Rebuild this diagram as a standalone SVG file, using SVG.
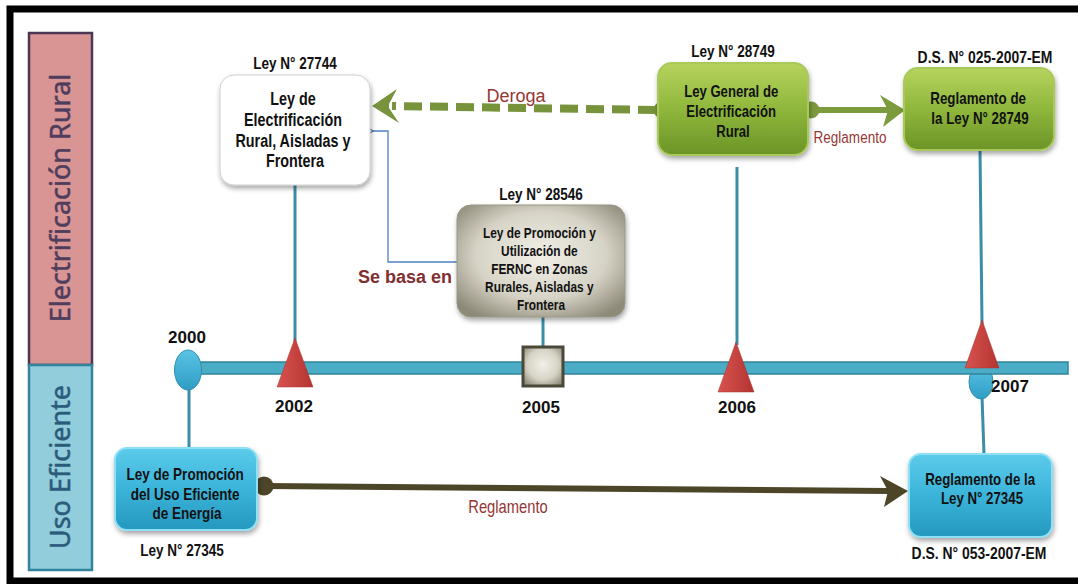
<svg xmlns="http://www.w3.org/2000/svg" width="1078" height="584" viewBox="0 0 1078 584">
<style>
  .nar { font-family: 'Liberation Sans', Arial, sans-serif; font-weight: bold; fill: #111; text-anchor: middle; }
  .yr { font-family: 'Liberation Sans', Arial, sans-serif; font-weight: bold; font-size: 17px; fill: #111; text-anchor: middle; }
  .lbl { font-size: 16.5px; }
  .side { font-family: 'Noto Sans', 'Open Sans', 'Liberation Sans', sans-serif; font-size: 27px; text-anchor: middle; stroke-width: 0.5; }
  .rel { font-family: 'Liberation Sans', Arial, sans-serif; fill: #953735; text-anchor: middle; }
  .vline { stroke: #3a8ea8; stroke-width: 3; fill: none; }
  .tri { fill: url(#gRed); stroke: #a83230; stroke-width: 0.5; }
</style>
<defs>
  <linearGradient id="gGreen" x1="0" y1="0" x2="0" y2="1">
    <stop offset="0" stop-color="#b6d35e"/>
    <stop offset="0.5" stop-color="#8fb73c"/>
    <stop offset="1" stop-color="#6c9427"/>
  </linearGradient>
  <linearGradient id="gBlue" x1="0" y1="0" x2="0" y2="1">
    <stop offset="0" stop-color="#5ccbea"/>
    <stop offset="0.5" stop-color="#3bb4da"/>
    <stop offset="1" stop-color="#2598bf"/>
  </linearGradient>
  <radialGradient id="gGray" cx="0.5" cy="0.45" r="0.65">
    <stop offset="0" stop-color="#f2f0e8"/>
    <stop offset="0.6" stop-color="#d6d3c6"/>
    <stop offset="1" stop-color="#8e8a79"/>
  </radialGradient>
  <linearGradient id="gRed" x1="0" y1="0" x2="1" y2="0">
    <stop offset="0" stop-color="#d9534f"/>
    <stop offset="1" stop-color="#b33431"/>
  </linearGradient>
  <linearGradient id="gDot" x1="0" y1="0" x2="0" y2="1">
    <stop offset="0" stop-color="#5bc4e6"/>
    <stop offset="1" stop-color="#2e9cc4"/>
  </linearGradient>
  <filter id="sh" x="-20%" y="-20%" width="140%" height="150%">
    <feDropShadow dx="1" dy="3" stdDeviation="2.5" flood-color="#000" flood-opacity="0.35"/>
  </filter>
  <marker id="mBlue" markerWidth="12" markerHeight="12" refX="1" refY="6" orient="auto" markerUnits="userSpaceOnUse">
    <path d="M9,1 L1,6 L9,11" fill="none" stroke="#4f81bd" stroke-width="1.3"/>
  </marker>
</defs>

<rect x="0" y="0" width="1078" height="584" fill="#fff"/>
<rect x="10" y="9" width="1080" height="572" fill="none" stroke="#000" stroke-width="7"/>

<g id="lane-electrificacion">
  <rect x="29" y="33" width="63" height="332" fill="#d99594" stroke="#4b3656" stroke-width="2.5"/>
  <text class="side" transform="translate(70,198) rotate(-90)" fill="#4e3d5c" stroke="#4e3d5c">Electrificación Rural</text>
</g>
<g id="lane-uso">
  <rect x="29" y="365" width="63" height="205" fill="#92cddc" stroke="#31849b" stroke-width="2.5"/>
  <text class="side" transform="translate(70,467) rotate(-90)" fill="#2b5b7a" stroke="#2b5b7a">Uso Eficiente</text>
</g>

<g id="connectors">
  <line class="vline" x1="295" y1="185" x2="295" y2="342"/>
  <line class="vline" x1="543" y1="317" x2="543" y2="348"/>
  <line class="vline" x1="737" y1="167" x2="737" y2="345"/>
  <line class="vline" x1="980" y1="150" x2="982" y2="324"/>
  <line class="vline" x1="189" y1="388" x2="189" y2="449"/>
  <line class="vline" x1="982" y1="396" x2="984" y2="455"/>
  <!-- Deroga -->
  <path d="M656,110 L392,106" stroke="#77933c" stroke-width="8" stroke-dasharray="18,8" fill="none"/>
  <path d="M372,106 L397,89 L389,104 L389,108 L399,123 Z" fill="#77933c"/>
  <circle cx="662" cy="110" r="8.5" fill="#77933c"/>
  <text class="rel" x="516" y="102" font-size="18">Deroga</text>
  <!-- Reglamento top -->
  <line x1="811" y1="110" x2="890" y2="110" stroke="#7b9b3c" stroke-width="6"/>
  <path d="M905,110 L880,95 L888,110 L883,127 Z" fill="#7b9b3c"/>
  <circle cx="811" cy="110" r="8.5" fill="#7b9b3c"/>
  <g transform="translate(850,0) scale(0.82,1)"><text class="rel" x="0" y="143" font-size="16.5">Reglamento</text></g>
  <!-- Se basa en -->
  <path d="M457,262 H388 V131 H373" fill="none" stroke="#4f81bd" stroke-width="1.3" marker-end="url(#mBlue)"/>
  <text class="rel" x="405" y="283" font-size="18" font-weight="bold" style="fill:#7f2f2f">Se basa en</text>
  <!-- Reglamento bottom -->
  <line x1="264" y1="486" x2="890" y2="491" stroke="#4d4528" stroke-width="6"/>
  <path d="M908,491 L880,476 L888,491 L884,507 Z" fill="#4d4528"/>
  <circle cx="264" cy="486" r="9.5" fill="#4d4528"/>
  <g transform="translate(508,0) scale(0.82,1)"><text class="rel" x="0" y="513" font-size="18">Reglamento</text></g>
</g>

<g id="timeline">
  <ellipse cx="981" cy="382" rx="12" ry="17" fill="url(#gDot)" stroke="#2f8fb0" stroke-width="1"/>
  <rect x="195" y="362" width="873" height="12" fill="#4bacc6" stroke="#31849b" stroke-width="1.5"/>
  <ellipse cx="188" cy="370" rx="13.5" ry="20" fill="url(#gDot)" stroke="#2f8fb0" stroke-width="1"/>
  <polygon class="tri" points="295,338 313,387 277,387"/>
  <rect x="523" y="347" width="40" height="39" fill="url(#gGray)" stroke="#4a4838" stroke-width="3"/>
  <polygon class="tri" points="736,342 754,392 718,392"/>
  <polygon class="tri" points="982,320 999,368 965,368"/>
  <text class="yr" x="187" y="343">2000</text>
  <text class="yr" x="294" y="412">2002</text>
  <text class="yr" x="541" y="413">2005</text>
  <text class="yr" x="737" y="413">2006</text>
  <text class="yr" x="1010" y="392">2007</text>
</g>

<g id="ley-27744">
  <rect x="220" y="75" width="150" height="110" rx="14" fill="#fff" stroke="#d0d0d0" stroke-width="1" filter="url(#sh)"/>
  <g transform="translate(295,0) scale(0.82,1)">
    <text class="nar lbl" x="0" y="69">Ley N° 27744</text>
    <text class="nar" font-size="17.5">
      <tspan x="0" y="105">Ley de</tspan>
      <tspan x="0" y="126">Electrificación</tspan>
      <tspan x="0" y="147">Rural, Aisladas y</tspan>
      <tspan x="0" y="167">Frontera</tspan>
    </text>
  </g>
</g>

<g id="ley-28749">
  <rect x="658" y="63" width="150" height="92" rx="14" fill="url(#gGreen)" stroke="#a9c95a" stroke-width="2" filter="url(#sh)"/>
  <g transform="translate(733,0) scale(0.82,1)">
    <text class="nar lbl" x="0" y="57">Ley N° 28749</text>
    <text class="nar" font-size="16">
      <tspan x="0" y="97">Ley General de</tspan>
      <tspan x="0" y="117">Electrificación</tspan>
      <tspan x="0" y="137">Rural</tspan>
    </text>
  </g>
</g>

<g id="ds-025-2007-em">
  <rect x="904" y="68" width="150" height="82" rx="14" fill="url(#gGreen)" stroke="#a9c95a" stroke-width="2" filter="url(#sh)"/>
  <g transform="translate(985,0) scale(0.82,1)">
    <text class="nar" font-size="17" x="0" y="63">D.S. N° 025-2007-EM</text>
  </g>
  <g transform="translate(980,0) scale(0.82,1)">
    <text class="nar" font-size="16.3">
      <tspan x="0" y="104">Reglamento de</tspan>
      <tspan x="0" y="124">la Ley N° 28749</tspan>
    </text>
  </g>
</g>

<g id="ley-28546">
  <rect x="457" y="205" width="168" height="112" rx="14" fill="url(#gGray)" stroke="#9a9684" stroke-width="1" filter="url(#sh)"/>
  <g transform="translate(541,0) scale(0.82,1)">
    <text class="nar lbl" x="0" y="200">Ley N° 28546</text>
    <text class="nar" font-size="14.5">
      <tspan x="0" y="238">Ley de Promoción y</tspan>
      <tspan x="0" y="256">Utilización de</tspan>
      <tspan x="0" y="274">FERNC en Zonas</tspan>
      <tspan x="0" y="292">Rurales, Aisladas y</tspan>
      <tspan x="0" y="310">Frontera</tspan>
    </text>
  </g>
</g>

<g id="ley-27345">
  <rect x="115" y="448" width="142" height="82" rx="12" fill="url(#gBlue)" stroke="#8ee0f5" stroke-width="2" filter="url(#sh)"/>
  <g transform="translate(182,0) scale(0.82,1)">
    <text class="nar lbl" x="0" y="556">Ley N° 27345</text>
  </g>
  <g transform="translate(187,0) scale(0.82,1)">
    <text class="nar" font-size="16.5">
      <tspan x="0" y="480">Ley de Promoción</tspan>
      <tspan x="0" y="500">del Uso Eficiente</tspan>
      <tspan x="0" y="519">de Energía</tspan>
    </text>
  </g>
</g>

<g id="ds-053-2007-em">
  <rect x="909" y="454" width="143" height="83" rx="12" fill="url(#gBlue)" stroke="#8ee0f5" stroke-width="2" filter="url(#sh)"/>
  <g transform="translate(979,0) scale(0.82,1)">
    <text class="nar" font-size="17" x="0" y="559">D.S. N° 053-2007-EM</text>
  </g>
  <g transform="translate(982,0) scale(0.82,1)">
    <text class="nar" font-size="16.2">
      <tspan x="0" y="485">Reglamento de la</tspan>
      <tspan x="0" y="504">Ley N° 27345</tspan>
    </text>
  </g>
</g>
</svg>
